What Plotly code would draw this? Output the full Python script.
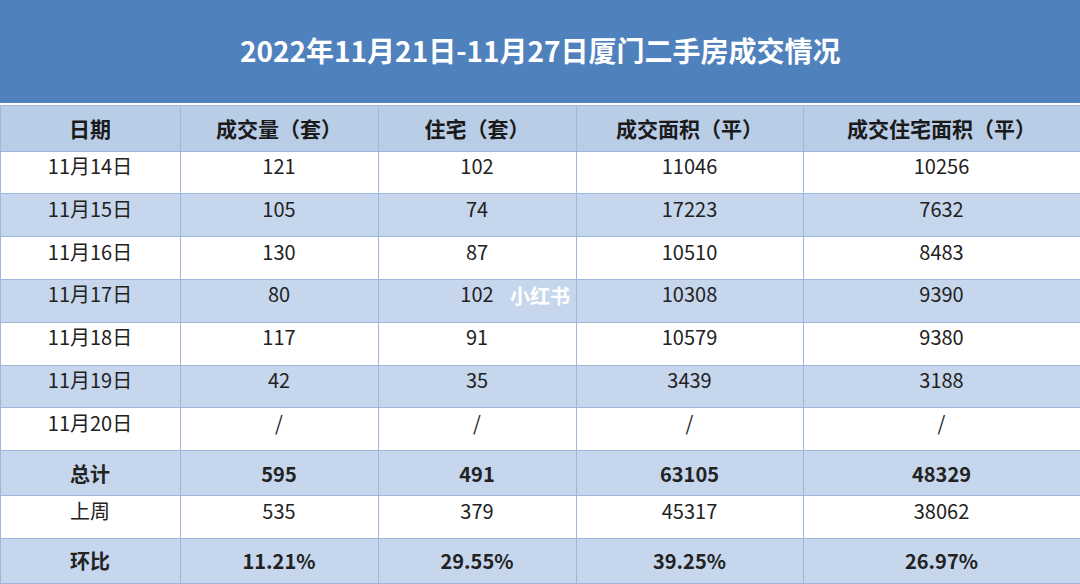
import plotly.graph_objects as go

title = "2022年11月21日-11月27日厦门二手房成交情况"
headers = ["日期", "成交量（套）", "住宅（套）", "成交面积（平）", "成交住宅面积（平）"]
dates = ["11月14日", "11月15日", "11月16日", "11月17日", "11月18日", "11月19日", "11月20日", "总计", "上周", "环比"]
deals = ["121", "105", "130", "80", "117", "42", "/", "595", "535", "11.21%"]
homes = ["102", "74", "87", "102", "91", "35", "/", "491", "379", "29.55%"]
area = ["11046", "17223", "10510", "10308", "10579", "3439", "/", "63105", "45317", "39.25%"]
home_area = ["10256", "7632", "8483", "9390", "9380", "3188", "/", "48329", "38062", "26.97%"]

BLUE = "#4F81BD"
LIGHT = "#C6D6EC"
bold_rows = {7, 9}

def fmt(col):
    return [f"<b>{v}</b>" if i in bold_rows else v for i, v in enumerate(col)]

row_fill = [LIGHT if i % 2 == 1 else "white" for i in range(len(dates))]

fig = go.Figure(go.Table(
    domain=dict(x=[0, 1], y=[0, 1 - 105 / 584]),
    columnwidth=[180, 198, 198, 227, 277],
    header=dict(
        values=[f"<b>{h}</b>" for h in headers],
        fill_color="#B9CDE6",
        line=dict(color="#9DB8DC", width=1),
        font=dict(family="Noto Sans CJK SC", size=21, color="#1a1a1a"),
        align="center", height=43,
    ),
    cells=dict(
        values=[fmt(dates), fmt(deals), fmt(homes), fmt(area), fmt(home_area)],
        fill_color=[row_fill] * 5,
        line=dict(color="#9DB8DC", width=1),
        font=dict(family="Noto Sans CJK SC", size=20, color="#222222"),
        align="center", height=42.8,
    ),
))

fig.update_layout(
    width=1080, height=584,
    margin=dict(l=0, r=0, t=0, b=0),
    paper_bgcolor="white",
    shapes=[dict(type="rect", xref="paper", yref="paper", x0=0, x1=1,
                 y0=1 - 103 / 584, y1=1, fillcolor=BLUE, line=dict(width=0), layer="below")],
    annotations=[
        dict(text=f"<b>{title}</b>", x=0.5, y=1 - 50 / 584, xref="paper", yref="paper",
             yanchor="middle", showarrow=False,
             font=dict(family="Noto Sans CJK SC", size=28, color="white")),
        dict(text="<b>小红书</b>", x=540 / 1080, y=1 - 295 / 584, xref="paper", yref="paper",
             yanchor="middle", showarrow=False,
             font=dict(family="Noto Sans CJK SC", size=20, color="white")),
    ],
)

# drop the browser's default body margin so the figure sits at the corner
fig.write_html("out.html", config={"displayModeBar": False},
               post_script="document.body.style.margin='0';document.body.style.overflow='hidden';")
